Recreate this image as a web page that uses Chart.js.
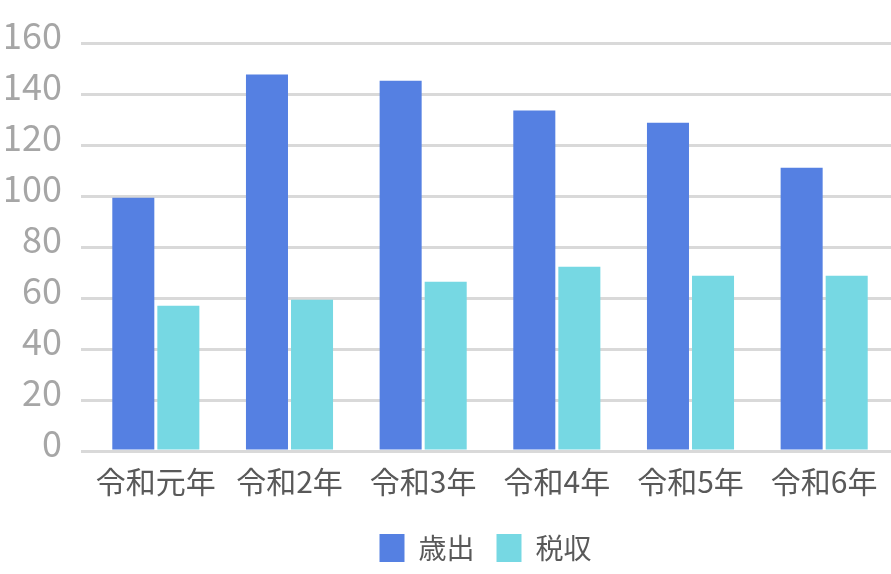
<!DOCTYPE html>
<html>
<head>
<meta charset="utf-8">
<script src="https://cdn.jsdelivr.net/npm/chart.js@4"></script>
<style>
html,body{margin:0;padding:0;background:#fff;}
#wrap{width:891px;height:574px;}
</style>
</head>
<body>
<div id="wrap"><canvas id="c" width="891" height="574"></canvas></div>
<script>
const categories = ["令和元年","令和2年","令和3年","令和4年","令和5年","令和6年"];
const expenditure = [99.3, 147.6, 145.2, 133.5, 128.7, 111.1];
const taxRevenue = [57.0, 59.3, 66.4, 72.3, 68.7, 68.7];
const seriesNames = ["歳出","税収"];
const yTicks = [0,20,40,60,80,100,120,140,160];

const FONT = '"Noto Sans CJK JP", "Noto Sans", sans-serif';

const legendShift = {
  id: 'legendShift',
  afterLayout(chart) {
    const l = chart.legend;
    if (!l) return;
    const dx = 37, dy = 10;
    l.left += dx; l.right += dx; l.top += dy; l.bottom += dy;
  }
};

new Chart(document.getElementById('c'), {
  type: 'bar',
  data: {
    labels: categories,
    datasets: [
      { label: seriesNames[0], data: expenditure, backgroundColor: '#5580e2', barPercentage: 0.933, categoryPercentage: 0.674 },
      { label: seriesNames[1], data: taxRevenue, backgroundColor: '#76d8e3', barPercentage: 0.933, categoryPercentage: 0.674 }
    ]
  },
  plugins: [legendShift],
  options: {
    responsive: false,
    animation: false,
    layout: { padding: { top: 43, left: 6, right: 0, bottom: 12 } },
    plugins: {
      legend: {
        position: 'bottom',
        labels: {
          boxWidth: 25, boxHeight: 28,
          color: '#595959',
          font: { family: FONT, size: 28 },
          padding: 22
        }
      },
      tooltip: { enabled: false }
    },
    scales: {
      x: {
        grid: { display: false },
        border: { display: false },
        ticks: { color: '#595959', font: { family: FONT, size: 30 }, padding: 5, maxRotation: 0, autoSkip: false },
        afterFit: (a) => { a.height = 51; }
      },
      y: {
        min: 0, max: 160,
        afterBuildTicks: (axis) => { axis.ticks = yTicks.map(v => ({ value: v })); },
        grid: { color: '#d9d9d9', lineWidth: 3, tickLength: 8, drawTicks: true },
        border: { display: false },
        ticks: { color: '#a6a6a6', font: { family: FONT, size: 36 }, padding: 19, labelOffset: -8 },
        afterFit: (a) => { a.width = 83; }
      }
    }
  }
});
</script>
</body>
</html>
